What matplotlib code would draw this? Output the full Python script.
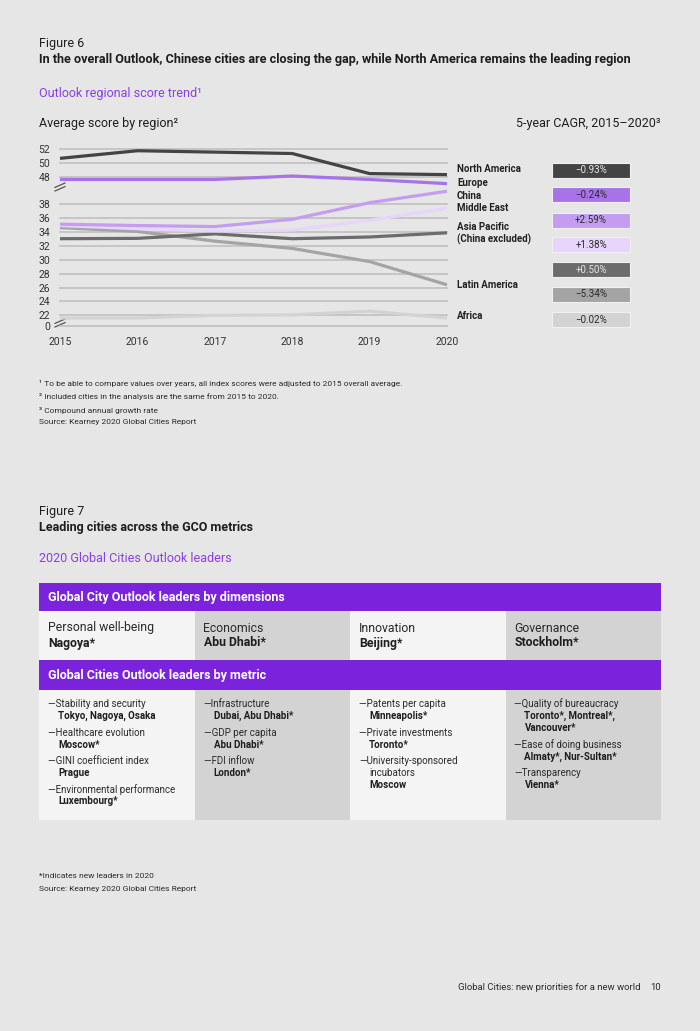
import numpy as np
import matplotlib
matplotlib.use("Agg")
import matplotlib.pyplot as plt
from matplotlib.patches import Rectangle

# ---- data -------------------------------------------------------------
years = [2015, 2016, 2017, 2018, 2019, 2020]
regions = ["North America", "Europe", "China", "Middle East",
           "Asia Pacific", "Latin America", "Africa"]
north_america = [50.65, 51.75, 51.55, 51.35, 48.45, 48.3]
europe = [47.6, 47.6, 47.6, 48.1, 47.6, 47.0]
china = [35.15, 34.95, 34.8, 35.85, 38.25, 39.9]
middle_east = [34.95, 34.5, 34.15, 34.3, 35.7, 37.45]
asia_pacific = [33.05, 33.1, 33.75, 33.05, 33.3, 33.9]
latin_america = [34.65, 34.1, 32.7, 31.65, 29.75, 26.4]
africa = [21.6, 21.6, 22.0, 22.05, 22.6, 21.6]
cagr = ["\u22120.93%", "\u22120.24%", "+2.59%", "+1.38%",
        "+0.50%", "\u22125.34%", "\u22120.02%"]
ytick_vals = [0, 22, 24, 26, 28, 30, 32, 34, 36, 38, 48, 50, 52]

dims = ["Personal well-being", "Economics", "Innovation", "Governance"]
dim_leaders = ["Nagoya*", "Abu Dhabi*", "Beijing*", "Stockholm*"]
metrics = [
    [("Stability and security", "Tokyo, Nagoya, Osaka"),
     ("Healthcare evolution", "Moscow*"),
     ("GINI coefficient index", "Prague"),
     ("Environmental performance", "Luxembourg*")],
    [("Infrastructure", "Dubai, Abu Dhabi*"),
     ("GDP per capita", "Abu Dhabi*"),
     ("FDI inflow", "London*")],
    [("Patents per capita", "Minneapolis*"),
     ("Private investments", "Toronto*"),
     ("University-sponsored\nincubators", "Moscow")],
    [("Quality of bureaucracy", "Toronto*, Montreal*,\nVancouver*"),
     ("Ease of doing business", "Almaty*, Nur-Sultan*"),
     ("Transparency", "Vienna*")],
]

series = [north_america, europe, china, middle_east,
          asia_pacific, latin_america, africa]
colors = ["#444444", "#a872e8", "#c49df1", "#e7d5fb",
          "#6c6c6c", "#a4a4a4", "#d3d3d3"]
box_text = ["#e6e6e6", "#2a2a2a", "#2a2a2a", "#2a2a2a",
            "#e6e6e6", "#2a2a2a", "#2a2a2a"]

plt.rcParams["font.family"] = ["Roboto", "DejaVu Sans"]
BG = "#e6e6e6"
PURPLE = "#7a22dc"
DARK = "#1e1e1e"
W, H = 700, 1031

fig = plt.figure(figsize=(7, 10.31), dpi=100, facecolor=BG)

# page overlay in pixel coordinates
pg = fig.add_axes([0, 0, 1, 1])
pg.set_xlim(0, W)
pg.set_ylim(H, 0)
pg.axis("off")
pg.set_facecolor("none")


def txt(x, y, s, size=9, weight="normal", color=DARK, ha="left", va="center", **kw):
    pg.text(x, y, s, fontsize=size, fontweight=weight, color=color,
            ha=ha, va=va, **kw)


# ---- figure 6 header ----
txt(39, 44, "Figure 6", 9)
txt(39, 60, "In the overall Outlook, Chinese cities are closing the gap, "
    "while North America remains the leading region", 9.1, "bold")
txt(39, 93, "Outlook regional score trend\u00b9", 9, color="#8a3ee6")
txt(39, 123, "Average score by region\u00b2", 9)
txt(661, 123, "5-year CAGR, 2015\u20132020\u00b3", 9, ha="right")

# ---- chart ----
xp = np.array([0, 20.6, 40.3, 46.6, 60])
fp = np.array([20.45, 20.6, 40.3, 40.6, 54])


def fwd(v):
    return np.interp(v, xp, fp)


def inv(d):
    return np.interp(d, fp, xp)


ax = fig.add_axes([60 / W, 1 - 326 / H, (447 - 60) / W, (326 - 149) / H])
ax.set_facecolor("none")
ax.set_yscale("function", functions=(fwd, inv))
ax.set_ylim(0, 52)
ax.set_xlim(years[0], years[-1])
for v in ytick_vals:
    ax.axhline(v, color="#c3c3c3", lw=1.3, zorder=1, clip_on=False)
draw_order = [6, 5, 4, 3, 2, 1, 0]
for i in draw_order:
    ax.plot(years, series[i], color=colors[i], lw=2.3, zorder=3,
            solid_capstyle="butt", clip_on=False)
ax.set_yticks(ytick_vals)
ax.set_yticklabels([str(v) for v in ytick_vals])
ax.set_xticks(years)
ax.tick_params(length=0, labelsize=7.5, labelcolor="#333333")
ax.tick_params(axis="y", pad=7)
ax.tick_params(axis="x", pad=8)
ax.yaxis.set_minor_locator(matplotlib.ticker.NullLocator())
for s in ax.spines.values():
    s.set_visible(False)

# axis break marks
for yb in (187, 323):
    for dy in (-1.8, 1.8):
        pg.plot([55, 65], [yb + dy + 2.2, yb + dy - 2.2], color="#555555",
                lw=0.9)

# right-hand labels
label_y = [169, 183, 196, 208, 227, 285, 316]
label_txt = ["North America", "Europe", "China", "Middle East",
             "Asia Pacific", "Latin America", "Africa"]
for y, s in zip(label_y, label_txt):
    txt(457, y, s, 7, "bold", "#222222")
txt(457, 239, "(China excluded)", 7, "bold", "#222222")

# CAGR boxes
box_y = [170, 194.5, 220, 244.5, 269.5, 294, 319.5]
for y, c, tc, s in zip(box_y, colors, box_text, cagr):
    pg.add_patch(Rectangle((552, y - 7.5), 78, 15, facecolor=c,
                           edgecolor="#f0f0f0", lw=0.8))
    txt(591, y + 0.3, s, 7, color=tc, ha="center")

# footnotes
notes = ["\u00b9 To be able to compare values over years, all index scores "
         "were adjusted to 2015 overall average.",
         "\u00b2 Included cities in the analysis are the same from 2015 to 2020.",
         "\u00b3 Compound annual growth rate",
         "Source: Kearney 2020 Global Cities Report"]
for y, s in zip([383, 396, 410, 422], notes):
    txt(39, y, s, 6.0, color="#2a2a2a")

# ---- figure 7 ----
txt(39, 511, "Figure 7", 9)
txt(39, 527, "Leading cities across the GCO metrics", 9, "bold")
txt(39, 559, "2020 Global Cities Outlook leaders", 9, color="#8a3ee6")

x0, x1 = 39, 661
cw = (x1 - x0) / 4
pg.add_patch(Rectangle((x0, 583), x1 - x0, 28, facecolor=PURPLE, lw=0))
txt(48, 598, "Global City Outlook leaders by dimensions", 9, "bold", "white")
pg.add_patch(Rectangle((x0, 660), x1 - x0, 30, facecolor=PURPLE, lw=0))
txt(48, 676, "Global Cities Outlook leaders by metric", 9, "bold", "white")

cell_cols = ["#f4f4f4", "#d3d3d3", "#f4f4f4", "#d3d3d3"]
for k in range(4):
    cx = x0 + k * cw
    pg.add_patch(Rectangle((cx, 611), cw, 49, facecolor=cell_cols[k], lw=0))
    pg.add_patch(Rectangle((cx, 690), cw, 130, facecolor=cell_cols[k], lw=0))
    txt(cx + 9, 628, dims[k], 8.8, color="#2a2a2a")
    txt(cx + 9, 643, dim_leaders[k], 8.8, "bold")
    y = 704
    for name, city in metrics[k]:
        nl = name.split("\n")
        txt(cx + 9, y, "\u2014" + nl[0], 7.0, color="#2a2a2a")
        for extra in nl[1:]:
            y += 12
            txt(cx + 19, y, extra, 7.0, color="#2a2a2a")
        for line in city.split("\n"):
            y += 12
            txt(cx + 19, y, line, 7.0, "bold")
        y += 16.5

txt(39, 876, "*Indicates new leaders in 2020", 6.0, color="#2a2a2a")
txt(39, 889, "Source: Kearney 2020 Global Cities Report", 6.0, color="#2a2a2a")

txt(641, 988, "Global Cities: new priorities for a new world", 6.8,
    color="#2a2a2a", ha="right")
txt(661, 988, "10", 6.8, color="#2a2a2a", ha="right")

fig.savefig("out.png", dpi=100, facecolor=BG)
